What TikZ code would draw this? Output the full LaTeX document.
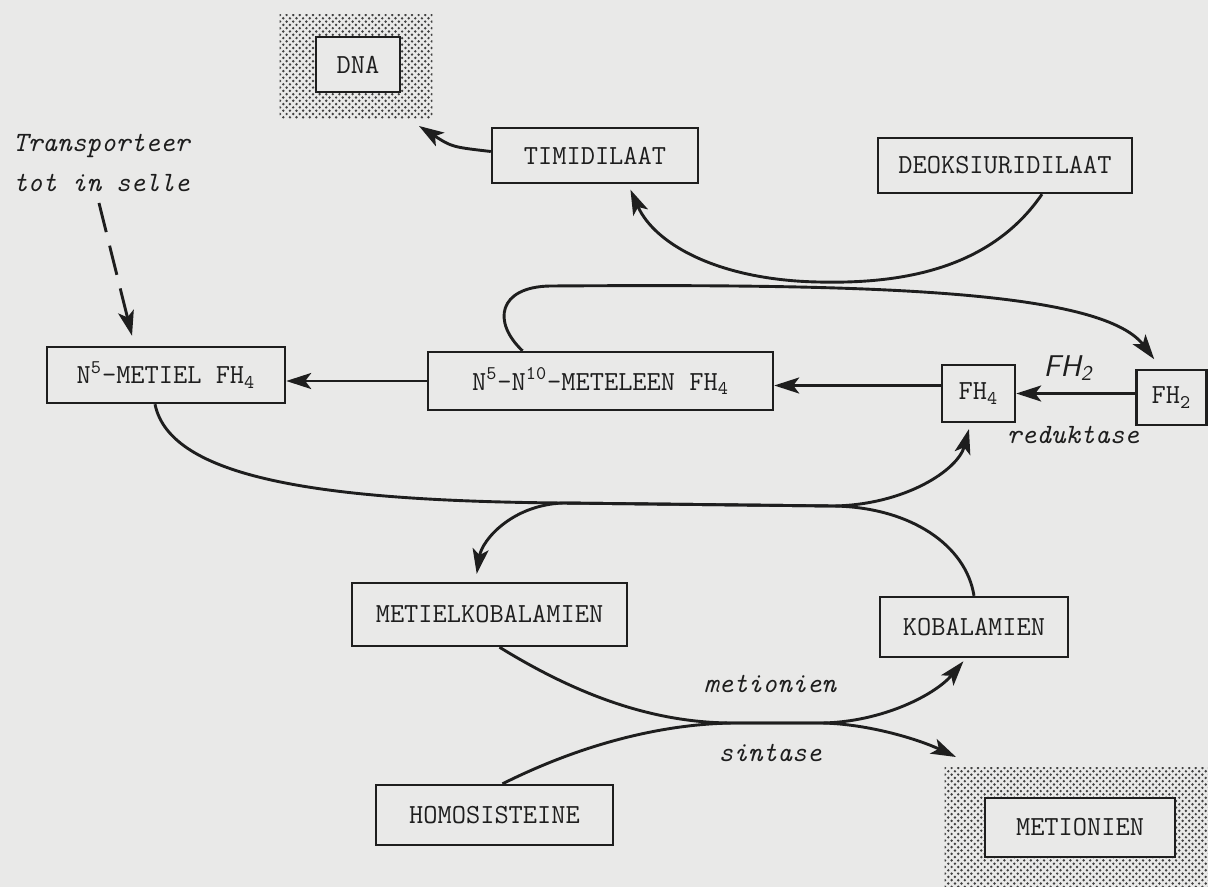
\documentclass[tikz,border=0pt]{standalone}
\usetikzlibrary{arrows.meta}
\definecolor{paper}{RGB}{233,233,232}
\definecolor{ink}{RGB}{30,30,30}
\begin{document}
\begin{tikzpicture}[x=0.5pt,y=-0.5pt,
  box/.style={draw=ink,line width=1.2pt,fill=paper,inner sep=0pt,font=\fontsize{13.8}{16}\selectfont\ttfamily,text=ink},
  arr/.style={draw=ink,line width=1.45pt,-{Stealth[length=12.5pt,width=8pt,inset=3pt]}},
  lbl/.style={font=\fontsize{14}{20}\selectfont\ttfamily\itshape,text=ink},
  area/.style={inner sep=0pt},
  dot/.style={fill=ink!85}]
\fill[paper] (0,0) rectangle (1208,887);
\useasboundingbox (0,0) rectangle (1208,887);

% shaded end products
\node[area,minimum width=76pt,minimum height=51.5pt] (dnabg) at (356,66.5) {};
\begin{scope}
  \clip (dnabg.north west) rectangle (dnabg.south east);
  \foreach \i in {0,...,24} \foreach \j in {0,...,16} {
    \fill[dot] (280+\i*6.6,15+\j*6.6) circle (1.35);
    \fill[dot] (283.3+\i*6.6,18.3+\j*6.6) circle (1.35);
  }
\end{scope}
\node[box,minimum width=42pt,minimum height=27.5pt] (dna) at (358,64.5) {DNA};
\node[area,minimum width=131.5pt,minimum height=59.5pt] (metbg) at (1076.5,827.5) {};
\begin{scope}
  \clip (metbg.north west) rectangle (metbg.south east);
  \foreach \i in {0,...,41} \foreach \j in {0,...,18} {
    \fill[dot] (945+\i*6.6,768+\j*6.6) circle (1.35);
    \fill[dot] (948.3+\i*6.6,771.3+\j*6.6) circle (1.35);
  }
\end{scope}
\node[box,minimum width=95pt,minimum height=29.5pt] (metio) at (1080,827.5) {METIONIEN};

% boxes
\node[box,minimum width=103pt,minimum height=27.5pt] (timi) at (595,155.5) {TIMIDILAAT};
\node[box,minimum width=127pt,minimum height=27.5pt] (deok) at (1005,165.5) {DEOKSIURIDILAAT};
\node[box,minimum width=119pt,minimum height=28pt] (metiel) at (166,375) {N\textsuperscript{5}-METIEL FH\textsubscript{4}};
\node[box,minimum width=172.5pt,minimum height=29pt] (meteleen) at (600.5,381) {N\textsuperscript{5}-N\textsuperscript{10}-METELEEN FH\textsubscript{4}};
\node[box,minimum width=36.5pt,minimum height=28.5pt] (fh4) at (978.5,393.5) {FH\textsubscript{4}};
\node[box,minimum width=35pt,minimum height=27.5pt] (fh2) at (1171.5,397.5) {FH\textsubscript{2}};
\node[box,minimum width=137.5pt,minimum height=31.5pt] (metko) at (489.5,614.5) {METIELKOBALAMIEN};
\node[box,minimum width=94pt,minimum height=30pt] (koba) at (974,627) {KOBALAMIEN};
\node[box,minimum width=118.5pt,minimum height=30pt] (homo) at (494.5,815) {HOMOSISTEINE};

% labels
\node[lbl,align=left,anchor=west] (transp) at (6,163) {Transporteer\\tot in selle};
\node[font=\fontsize{15}{16}\selectfont\sffamily\itshape,text=ink] (fh2lbl) at (1068,368) {FH\textsubscript{2}};
\node[lbl] (red) at (1073,435) {reduktase};
\node[lbl] (metlbl) at (770,684) {metionien};
\node[lbl] (sinlbl) at (770,753) {sintase};

% coordinates
\coordinate (dstart) at (99,203);
\coordinate (dnatip) at (419,126);
\coordinate (mettip) at (956,757);

% straight arrows
\draw[arr,dash pattern=on 15pt off 7pt] (dstart) -- ([xshift=-17pt,yshift=5pt]metiel.north);
\draw[arr] (meteleen.west) -- (meteleen.west -| metiel.east);
\draw[arr] (fh2.west |- fh4.east) -- (fh4.east);
\draw[arr] ([yshift=4pt]fh4.west) -- ([yshift=4pt]fh4.west -| meteleen.east);
\draw[arr] ([yshift=2pt]timi.west) .. controls (452,147) .. (dnatip);

% deoksiuridilaat -> timidilaat
\draw[arr,shorten >=3pt] ([xshift=18.5pt]deok.south) .. controls (990,270) and (900,284) .. (818,282)
   .. controls (720,280) and (655,245) .. ([xshift=16.5pt]timi.south);

% loop from meteleen to FH2
\draw[arr,shorten >=6pt] ([xshift=-39pt]meteleen.north) .. controls (492,322) and (498,287) .. (550,286)
   .. controls (850,284) and (1100,288) .. ([xshift=-5pt]fh2.north);

% N5-metiel -> FH4
\draw[arr,shorten >=3pt] ([xshift=-5.5pt]metiel.south) .. controls (170,478) and (320,501) .. (563,503)
   -- (833,506) .. controls (905,505) and (958,470) .. ([xshift=-4pt]fh4.south);

% kobalamien -> metielkobalamien
\draw[arr,shorten >=4pt] (koba.north) .. controls (966,545) and (910,507) .. (833,506)
   -- (563,503) .. controls (512,505) and (482,540) .. ([xshift=-7pt]metko.north);

% metielkobalamien -> kobalamien
\draw[arr,shorten >=2pt] ([xshift=5pt]metko.south) .. controls (585,700) and (660,723) .. (733,723)
   -- (822,723) .. controls (882,722) and (935,695) .. ([xshift=-4pt]koba.south);

% homosisteine -> metionien
\draw[arr] ([xshift=4pt]homo.north) .. controls (580,745) and (660,724) .. (733,723)
   -- (822,723) .. controls (870,724) and (920,740) .. (mettip);
\end{tikzpicture}
\end{document}
